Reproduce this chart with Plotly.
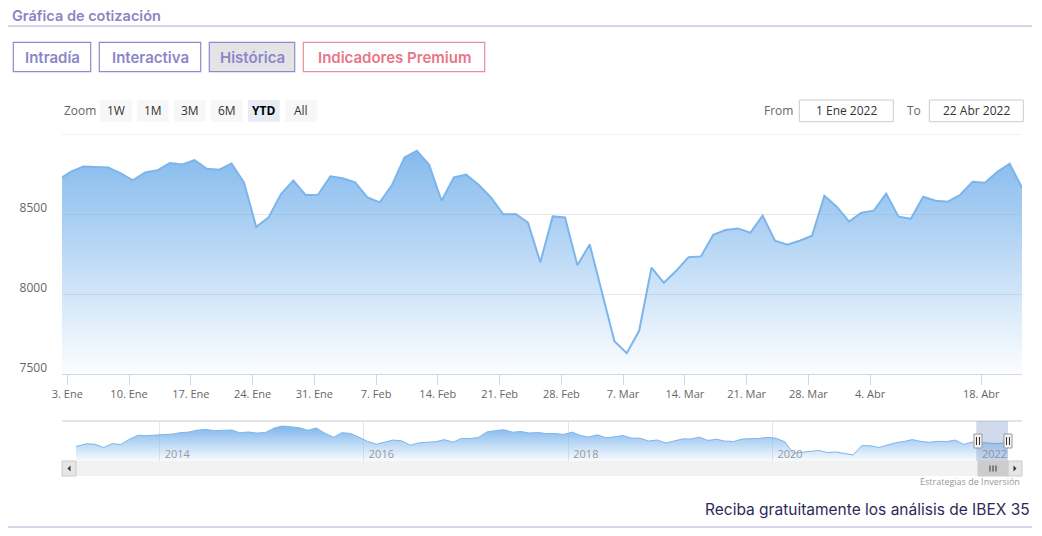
import plotly.graph_objects as go

# page offset of the plot div (default body margin) is compensated for
OFF = 8
W, H = 1042 - OFF, 536 - OFF


def px(x):
    return (x - OFF) / W


def py(y):
    return 1 - (y - OFF) / H


# ---------------- data ----------------
dates = [
    "2021-12-31",
    "2022-01-03", "2022-01-04", "2022-01-05", "2022-01-06", "2022-01-07",
    "2022-01-10", "2022-01-11", "2022-01-12", "2022-01-13", "2022-01-14",
    "2022-01-17", "2022-01-18", "2022-01-19", "2022-01-20", "2022-01-21",
    "2022-01-24", "2022-01-25", "2022-01-26", "2022-01-27", "2022-01-28",
    "2022-01-31", "2022-02-01", "2022-02-02", "2022-02-03", "2022-02-04",
    "2022-02-07", "2022-02-08", "2022-02-09", "2022-02-10", "2022-02-11",
    "2022-02-14", "2022-02-15", "2022-02-16", "2022-02-17", "2022-02-18",
    "2022-02-21", "2022-02-22", "2022-02-23", "2022-02-24", "2022-02-25",
    "2022-02-28", "2022-03-01", "2022-03-02", "2022-03-03", "2022-03-04",
    "2022-03-07", "2022-03-08", "2022-03-09", "2022-03-10", "2022-03-11",
    "2022-03-14", "2022-03-15", "2022-03-16", "2022-03-17", "2022-03-18",
    "2022-03-21", "2022-03-22", "2022-03-23", "2022-03-24", "2022-03-25",
    "2022-03-28", "2022-03-29", "2022-03-30", "2022-03-31", "2022-04-01",
    "2022-04-04", "2022-04-05", "2022-04-06", "2022-04-07", "2022-04-08",
    "2022-04-11", "2022-04-12", "2022-04-13", "2022-04-14",
    "2022-04-19", "2022-04-20", "2022-04-21", "2022-04-22",
]
values = [
    8714,
    8765, 8797, 8794, 8791, 8756,
    8710, 8760, 8773, 8819, 8810,
    8837, 8783, 8777, 8816, 8698,
    8419, 8479, 8625, 8710, 8618,
    8620, 8736, 8723, 8698, 8604,
    8573, 8683, 8854, 8896, 8808,
    8583, 8729, 8746, 8683, 8604,
    8498, 8500, 8446, 8198, 8485,
    8478, 8180, 8310, 8000, 7705,
    7630, 7770, 8165, 8070, 8145,
    8230, 8235, 8370, 8400, 8410,
    8383, 8490, 8333, 8308, 8333,
    8364, 8614, 8546, 8452, 8508,
    8521, 8627, 8483, 8470, 8608,
    8583, 8577, 8620, 8702,
    8696, 8764, 8814, 8664,
]
tick_dates = ["2022-01-03", "2022-01-10", "2022-01-17", "2022-01-24", "2022-01-31",
              "2022-02-07", "2022-02-14", "2022-02-21", "2022-02-28", "2022-03-07",
              "2022-03-14", "2022-03-21", "2022-03-28", "2022-04-04", "2022-04-18"]
tick_labels = ["3. Ene", "10. Ene", "17. Ene", "24. Ene", "31. Ene",
               "7. Feb", "14. Feb", "21. Feb", "28. Feb", "7. Mar",
               "14. Mar", "21. Mar", "28. Mar", "4. Abr", "18. Abr"]
y_ticks = [7500, 8000, 8500]

# navigator (monthly closes, Mar 2013 - Apr 2022)
nav_2013 = [7920, 8419, 8320, 7763, 8434, 8290, 9186, 9908, 9837, 9917]
nav_2014 = [9920, 10114, 10340, 10459, 10798, 10923, 10707, 10729, 10826, 10340, 10477, 10280]
nav_2015 = [10403, 11178, 11521, 11385, 11218, 10770, 11180, 10259, 9559, 10360, 10215, 9544]
nav_2016 = [8815, 8346, 8723, 9062, 8927, 8163, 8571, 8708, 8779, 9143, 8689, 9352]
nav_2017 = [9315, 9555, 10463, 10715, 10880, 10444, 10557, 10300, 10381, 10198, 10211, 10044]
nav_2018 = [10451, 9840, 9600, 9980, 9466, 9623, 9870, 9400, 9390, 8900, 9077, 8540]
nav_2019 = [8850, 9277, 9240, 9570, 9005, 9199, 8875, 8812, 9245, 9257, 9352, 9549]
nav_2020 = [9367, 8723, 6785, 6922, 7096, 7231, 6877, 6970, 6717, 6452, 8077, 8074]
nav_2021 = [7758, 8225, 8580, 8815, 9148, 8821, 8675, 8847, 8796, 9058, 8305, 8714]
nav_2022 = [8612, 8482, 8445, 8664]
nav_years = [2013, 2014, 2015, 2016, 2017, 2018, 2019, 2020, 2021, 2022]
nav_first_month = [3, 1, 1, 1, 1, 1, 1, 1, 1, 1]
nav_year_labels = ["2014", "2016", "2018", "2020", "2022"]
nav_range = ["2013-03-08", "2022-04-22"]
selected_range = ["2022-01-01", "2022-04-22"]

header_buttons = ["Intradía", "Interactiva", "Histórica", "Indicadores Premium"]
zoom_buttons = ["1W", "1M", "3M", "6M", "YTD", "All"]

# ---------------- build ----------------
x_idx = list(range(len(values)))
tick_pos = []
for td in tick_dates:
    i = next(k for k, d in enumerate(dates) if d >= td)
    tick_pos.append(i - 0.3)

nav_x, nav_y = [], []
for yr, m0, vals in zip(nav_years, nav_first_month,
                        [nav_2013, nav_2014, nav_2015, nav_2016, nav_2017,
                         nav_2018, nav_2019, nav_2020, nav_2021, nav_2022]):
    for j, v in enumerate(vals):
        nav_x.append(f"{yr}-{m0 + j:02d}-15")
        nav_y.append(v)
nav_x[0] = nav_range[0]
nav_x[-1] = nav_range[1]

fig = go.Figure()
fig.add_trace(go.Scatter(
    x=x_idx, y=values, mode="lines",
    line=dict(color="#7cb5ec", width=2),
    fill="tozeroy",
    fillgradient=dict(type="vertical",
                      colorscale=[[0, "rgba(124,181,236,0.02)"], [1, "rgba(124,181,236,1)"]],
                      start=7500, stop=9000),
    hoverinfo="skip", xaxis="x", yaxis="y", showlegend=False))

fig.add_trace(go.Scatter(
    x=nav_x, y=nav_y, mode="lines",
    line=dict(color="#7cb5ec", width=1),
    fill="tozeroy",
    fillgradient=dict(type="vertical",
                      colorscale=[[0, "rgba(124,181,236,0.05)"], [1, "rgba(124,181,236,1)"]],
                      start=5400, stop=11600),
    hoverinfo="skip", xaxis="x2", yaxis="y2", showlegend=False))

AX_FONT = "Open Sans, DejaVu Sans, sans-serif"
fig.update_layout(
    width=W, height=H, margin=dict(l=0, r=0, t=0, b=0, autoexpand=False),
    paper_bgcolor="white", plot_bgcolor="white", showlegend=False,
    xaxis=dict(domain=[px(62), px(1022)], range=[0.27, 78], anchor="y", automargin=False,
               tickvals=tick_pos, ticktext=tick_labels, ticks="outside", ticklen=10,
               tickcolor="#ccd6eb", showline=True, linecolor="#ccd6eb", linewidth=1,
               showgrid=False, zeroline=False,
               tickfont=dict(family=AX_FONT, size=11, color="#666666")),
    yaxis=dict(domain=[py(374), py(134)], range=[7500, 9000], anchor="x", automargin=False,
               tickvals=y_ticks, showgrid=True, gridcolor="#e6e6e6", zeroline=False,
               showline=False, ticks="", ticklabelstandoff=14, ticklabelshift=-6,
               tickfont=dict(family=AX_FONT, size=12, color="#666666")),
    xaxis2=dict(domain=[px(76), px(1008)], range=nav_range, type="date", anchor="y2",
                automargin=False,
                tickvals=[f"{t}-01-01" for t in nav_year_labels], ticktext=nav_year_labels,
                ticklabelposition="inside right", ticklabelshift=5, ticklabelstandoff=-5,
                ticks="", showgrid=True,
                gridcolor="#e6e6e6", showline=False, zeroline=False,
                tickfont=dict(family=AX_FONT, size=11, color="#999999")),
    yaxis2=dict(domain=[py(461), py(421)], range=[5400, 12400], anchor="x2",
                automargin=False, visible=False, showgrid=False, zeroline=False),
)

shapes = []
ann = []

# header
ann.append(dict(x=px(10), y=py(15), xref="paper", yref="paper", xanchor="left", yanchor="middle",
                text="Gráfica de cotización", showarrow=False,
                font=dict(family="Inter", size=14.5, weight=600, color="#8b84c4")))
shapes.append(dict(type="line", xref="paper", yref="paper", x0=px(8), x1=px(1032),
                   y0=py(26), y1=py(26), line=dict(color="#c9c5e6", width=1.5)))

btn_x = [(13.3, 90.7), (99.3, 200.7), (209.3, 294.7), (303.3, 484.7)]
for (a, b), lab in zip(btn_x, header_buttons):
    premium = lab.startswith("Indicadores")
    active = lab == "Histórica"
    shapes.append(dict(type="rect", xref="paper", yref="paper", x0=px(a), x1=px(b),
                       y0=py(71.7), y1=py(42.3),
                       fillcolor="#e4e4e7" if active else "white",
                       line=dict(color="#e98c9c" if premium else "#9189cb", width=1.2)))
    ann.append(dict(x=px((a + b) / 2), y=py(57.5), xref="paper", yref="paper",
                    xanchor="center", yanchor="middle", text=lab, showarrow=False,
                    font=dict(family="Inter", size=15, weight=600,
                              color="#e8768b" if premium else "#8d86c6")))

# range selector
ann.append(dict(x=px(62), y=py(110.5), xref="paper", yref="paper", xanchor="left",
                yanchor="middle", text="Zoom", showarrow=False,
                font=dict(family=AX_FONT, size=12, color="#666666")))
for i, lab in enumerate(zoom_buttons):
    a = 100 + i * 37
    b = a + 31.7
    sel = lab == "YTD"
    shapes.append(dict(type="rect", xref="paper", yref="paper", x0=px(a), x1=px(b),
                       y0=py(121.7), y1=py(100), fillcolor="#e6ebf5" if sel else "#f7f7f7",
                       line=dict(width=0)))
    ann.append(dict(x=px((a + b) / 2), y=py(110.5), xref="paper", yref="paper",
                    xanchor="center", yanchor="middle", text=f"<b>{lab}</b>" if sel else lab,
                    showarrow=False,
                    font=dict(family=AX_FONT, size=12, color="#000000" if sel else "#333333")))

ann.append(dict(x=px(762), y=py(110.5), xref="paper", yref="paper", xanchor="left",
                yanchor="middle", text="From", showarrow=False,
                font=dict(family=AX_FONT, size=12, color="#666666")))
ann.append(dict(x=px(905), y=py(110.5), xref="paper", yref="paper", xanchor="left",
                yanchor="middle", text="To", showarrow=False,
                font=dict(family=AX_FONT, size=12, color="#666666")))
for (a, b), txt in zip([(799.3, 893.3), (929.3, 1023.3)], ["1 Ene 2022", "22 Abr 2022"]):
    shapes.append(dict(type="rect", xref="paper", yref="paper", x0=px(a), x1=px(b),
                       y0=py(121.7), y1=py(100), fillcolor="white",
                       line=dict(color="#cccccc", width=1)))
    ann.append(dict(x=px((a + b) / 2), y=py(110.5), xref="paper", yref="paper",
                    xanchor="center", yanchor="middle", text=txt, showarrow=False,
                    font=dict(family=AX_FONT, size=12, color="#333333")))

# top gridline of main plot
shapes.append(dict(type="line", xref="paper", yref="y", x0=px(62), x1=px(1022),
                   y0=9000, y1=9000, line=dict(color="#e6e6e6", width=1), layer="below"))

# navigator
shapes.append(dict(type="line", xref="paper", yref="paper", x0=px(62), x1=px(1022),
                   y0=py(421), y1=py(421), line=dict(color="#cccccc", width=1)))
shapes.append(dict(type="rect", xref="x2", yref="paper", x0=selected_range[0],
                   x1=selected_range[1], y0=py(461), y1=py(421),
                   fillcolor="rgba(102,133,194,0.3)", line=dict(width=0)))
# scrollbar
shapes.append(dict(type="rect", xref="paper", yref="paper", x0=px(62), x1=px(1022),
                   y0=py(476), y1=py(461), fillcolor="#f2f2f2", line=dict(width=0)))
for a, b in [(62, 76), (1008, 1022)]:
    shapes.append(dict(type="rect", xref="paper", yref="paper", x0=px(a), x1=px(b),
                       y0=py(476), y1=py(461), fillcolor="#e6e6e6",
                       line=dict(color="#cccccc", width=1)))
shapes.append(dict(type="rect", xref="paper", yref="paper", x0=px(978), x1=px(1008),
                   y0=py(476), y1=py(461), fillcolor="#cccccc",
                   line=dict(color="#cccccc", width=1)))
for gx in [990, 993, 996]:
    shapes.append(dict(type="line", xref="paper", yref="paper", x0=px(gx), x1=px(gx),
                       y0=py(471.5), y1=py(465.5), line=dict(color="#333333", width=1)))
shapes.append(dict(type="path", xref="paper", yref="paper",
                   path=f"M {px(70.5)} {py(465.5)} L {px(70.5)} {py(471.5)} L {px(67.5)} {py(468.5)} Z",
                   fillcolor="#333333", line=dict(width=0)))
shapes.append(dict(type="path", xref="paper", yref="paper",
                   path=f"M {px(1013.5)} {py(465.5)} L {px(1013.5)} {py(471.5)} L {px(1016.5)} {py(468.5)} Z",
                   fillcolor="#333333", line=dict(width=0)))
# handles
for hx in [978, 1008]:
    shapes.append(dict(type="rect", xref="paper", yref="paper", x0=px(hx - 4), x1=px(hx + 4),
                       y0=py(448), y1=py(434), fillcolor="#f2f2f2",
                       line=dict(color="#999999", width=1)))
    for dx in [-1.5, 1.5]:
        shapes.append(dict(type="line", xref="paper", yref="paper", x0=px(hx + dx),
                           x1=px(hx + dx), y0=py(445), y1=py(437),
                           line=dict(color="#333333", width=1)))

# footer
ann.append(dict(x=px(1022), y=py(481), xref="paper", yref="paper", xanchor="right",
                yanchor="middle", text="Estrategias de Inversión", showarrow=False,
                font=dict(family=AX_FONT, size=9, color="#999999")))
ann.append(dict(x=px(1032), y=py(509), xref="paper", yref="paper", xanchor="right",
                yanchor="middle", text="Reciba gratuitamente los análisis de IBEX 35",
                showarrow=False, font=dict(family="Inter", size=15.5, color="#2e2a5a")))
shapes.append(dict(type="line", xref="paper", yref="paper", x0=px(8), x1=px(1032),
                   y0=py(527), y1=py(527), line=dict(color="#c9c5e6", width=1.5)))

fig.update_layout(shapes=shapes, annotations=ann)
fig.write_html("out.html")
